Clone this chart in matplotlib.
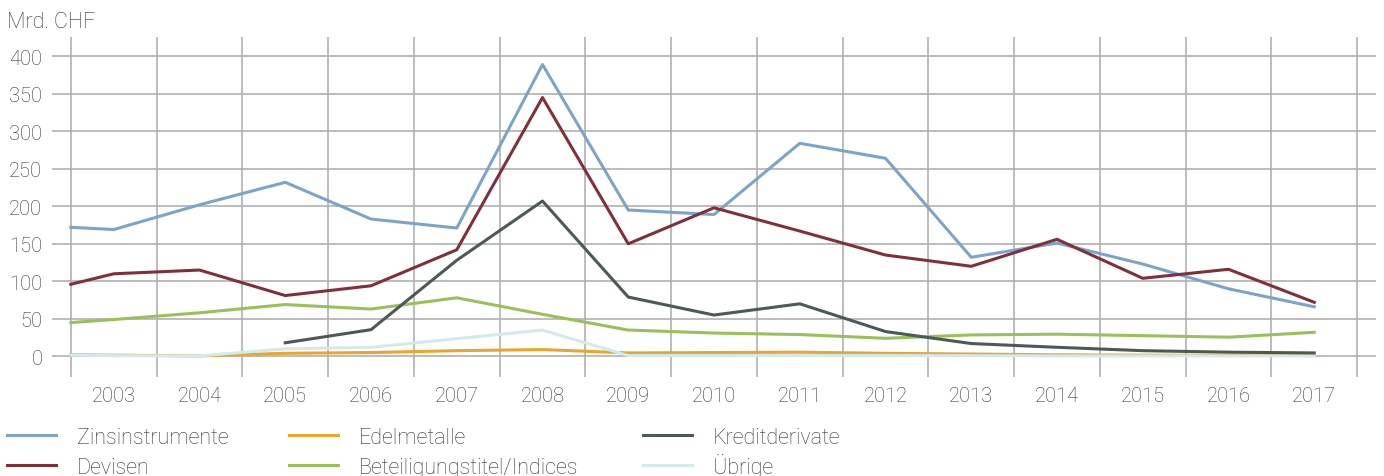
import matplotlib
matplotlib.use("Agg")
import matplotlib.pyplot as plt
from matplotlib.lines import Line2D
from matplotlib.ticker import FixedLocator, NullFormatter

# ---- data (Mrd. CHF) ----
periods = [2002.5, 2003, 2004, 2005, 2006, 2007, 2008, 2009, 2010,
           2011, 2012, 2013, 2014, 2015, 2016, 2017]
zinsinstrumente = [172, 169, 202, 232, 183, 171, 389, 195, 189, 284, 264, 132, 151, 123, 90, 66]
devisen = [96, 110, 115, 81, 94, 142, 345, 150, 198, 167, 135, 120, 156, 104, 116, 72]
edelmetalle = [2, 1.5, 0.5, 4, 5, 7.5, 9, 4.5, 5, 5.5, 4, 3, 2, 1.5, 1.2, 1.0]
beteiligung = [45, 49, 58, 69, 63, 78, 56, 35, 31, 29, 24, 28.5, 29.5, 27.5, 25.5, 32]
kredit_periods = [2005, 2006, 2007, 2008, 2009, 2010, 2011, 2012, 2013, 2014, 2015, 2016, 2017]
kreditderivate = [18, 35.5, 128, 207, 79, 55, 70, 33, 17, 12, 7.5, 5.5, 4.5]
uebrige = [1.5, 0.8, 0.5, 10, 12, 23.5, 35, 1, 1, 1, 1, 0.8, 0.5, 0.5, 0.5, 0.5]

year_labels = [str(y) for y in range(2003, 2018)]
y_ticks = [0, 50, 100, 150, 200, 250, 300, 350, 400]

colors = {
    "Zinsinstrumente": "#7ca4c9",
    "Devisen": "#80303a",
    "Edelmetalle": "#e8a62a",
    "Beteiligungstitel/Indices": "#9bc05b",
    "Kreditderivate": "#4b5a55",
    "Übrige": "#d4e9ec",
}

plt.rcParams['font.family'] = ['Roboto', 'DejaVu Sans']
txt_color = "#333333"

W, H = 1384, 477
fig = plt.figure(figsize=(W / 100, H / 100), dpi=100)
ax = fig.add_axes([52 / W, (H - 378) / H, (1376 - 52) / W, (378 - 38) / H])

lw = 2.2
l_z, = ax.plot(periods, zinsinstrumente, color=colors["Zinsinstrumente"], lw=lw, label="Zinsinstrumente", zorder=6)
l_d, = ax.plot(periods, devisen, color=colors["Devisen"], lw=lw, label="Devisen", zorder=7)
l_e, = ax.plot(periods, edelmetalle, color=colors["Edelmetalle"], lw=lw, label="Edelmetalle", zorder=3)
l_b, = ax.plot(periods, beteiligung, color=colors["Beteiligungstitel/Indices"], lw=lw,
               label="Beteiligungstitel/Indices", zorder=4)
l_k, = ax.plot(kredit_periods, kreditderivate, color=colors["Kreditderivate"], lw=lw,
               label="Kreditderivate", zorder=5)
l_u, = ax.plot(periods, uebrige, color=colors["Übrige"], lw=lw, label="Übrige", zorder=3.5)

ax.set_xlim(2002.28, 2017.72)
ax.set_ylim(-27.6, 425.7)

ax.set_xticks(range(2003, 2018))
ax.set_xticklabels(year_labels)
ax.xaxis.set_minor_locator(FixedLocator([2002.5 + i for i in range(16)]))
ax.xaxis.set_minor_formatter(NullFormatter())
ax.set_yticks(y_ticks)
ax.set_yticklabels([str(v) for v in y_ticks])

ax.grid(False)
ax.grid(True, which='minor', axis='x', color='#b0b0b0', lw=1.2, zorder=0)
ax.grid(True, which='major', axis='y', color='#b0b0b0', lw=1.2, zorder=0)
ax.set_axisbelow(True)

for s in ax.spines.values():
    s.set_visible(False)
ax.tick_params(axis='both', which='both', length=0, labelsize=14.5, colors=txt_color)
ax.tick_params(axis='x', pad=6.5)
ax.tick_params(axis='y', pad=7)
for t in ax.get_xticklabels() + ax.get_yticklabels():
    t.set_fontweight('light')

fig.text(7 / W, 1 - 28 / H, "Mrd. CHF", fontsize=15.5, color=txt_color,
         fontweight='light', va='baseline', ha='left')

# legend: three columns x two rows, placed at fixed pixel positions
fs_leg = 15.5
col_x = [7, 289, 643]          # left end of the legend key line (px)
row_y = [436, 466]             # key line centre (px from top)
entries = [l_z, l_d, l_e, l_b, l_k, l_u]
for i, h in enumerate(entries):
    c, r = divmod(i, 2)
    x0 = col_x[c]
    y = row_y[r]
    fig.add_artist(Line2D([x0 / W, (x0 + 49) / W], [1 - y / H, 1 - y / H],
                          transform=fig.transFigure, color=h.get_color(), lw=2.2))
    fig.text((x0 + 70) / W, 1 - (y + 8) / H, h.get_label(), fontsize=fs_leg,
             fontweight='light', color=txt_color, va='baseline', ha='left')

fig.savefig("out.png", dpi=100)
